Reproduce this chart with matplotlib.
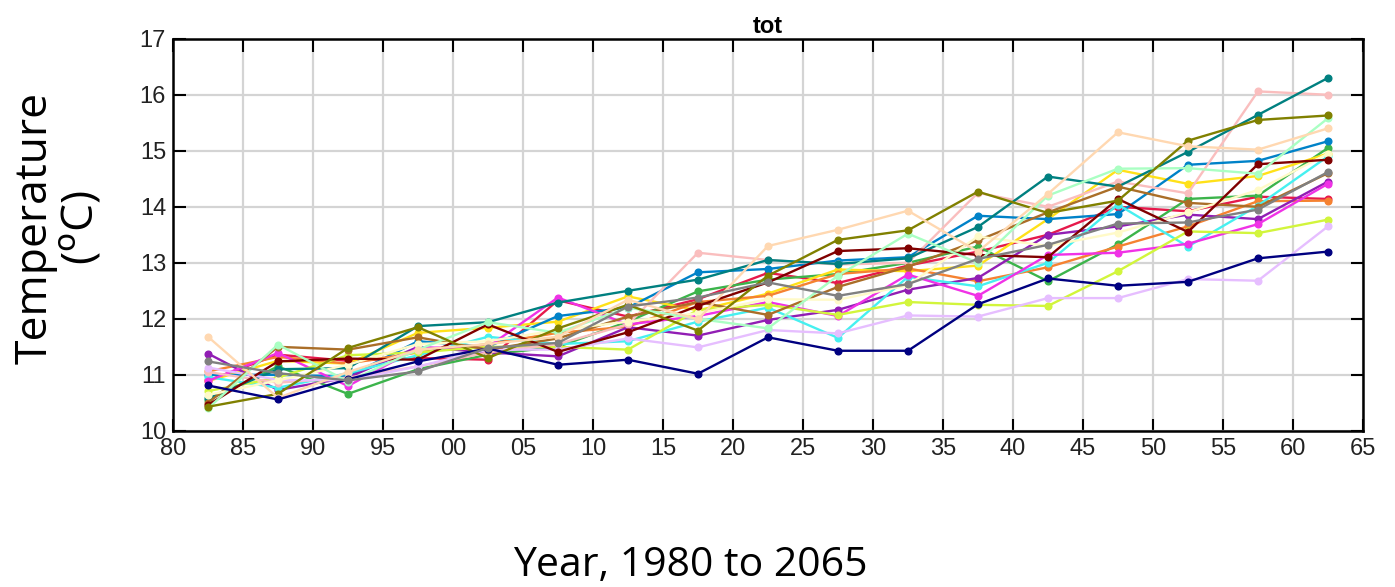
import matplotlib
matplotlib.use("Agg")
import matplotlib.pyplot as plt
import numpy as np

# period midpoints, 1982.5 .. 2062.5
years = np.arange(1982.5, 2065, 5)

red = [10.90, 11.36, 11.25, 11.30, 11.27, 12.33, 12.04, 12.35, 12.82, 12.64, 12.95, 13.20, 13.50, 14.00, 13.92, 14.18, 14.14]
green = [10.55, 11.15, 10.66, 11.10, 11.36, 11.50, 11.95, 12.49, 12.70, 12.80, 13.00, 13.29, 12.67, 13.33, 14.14, 14.20, 15.05]
yellow = [10.89, 11.25, 11.20, 11.75, 11.84, 11.95, 12.40, 12.15, 12.45, 12.88, 12.85, 12.95, 13.78, 14.66, 14.41, 14.55, 14.95]
blue = [11.00, 11.00, 10.97, 11.60, 11.50, 12.05, 12.20, 12.83, 12.89, 13.04, 13.10, 13.84, 13.78, 13.87, 14.75, 14.82, 15.17]
orange = [11.06, 11.32, 11.20, 11.40, 11.55, 11.75, 11.86, 12.30, 12.41, 12.80, 12.90, 12.67, 12.92, 13.29, 13.65, 14.10, 14.11]
purple = [11.38, 10.73, 10.95, 11.50, 11.40, 11.33, 11.85, 11.70, 11.98, 12.16, 12.52, 12.73, 13.50, 13.65, 13.86, 13.78, 14.45]
cyan = [10.96, 10.77, 11.03, 11.35, 11.68, 11.55, 11.60, 11.95, 12.20, 11.66, 12.75, 12.58, 13.00, 14.04, 13.29, 14.02, 14.90]
magenta = [10.89, 11.39, 10.80, 11.48, 11.50, 12.38, 11.90, 12.05, 12.30, 12.05, 12.79, 12.41, 13.14, 13.18, 13.34, 13.69, 14.41]
lime = [10.71, 10.95, 11.35, 11.40, 11.50, 11.50, 11.45, 12.16, 12.25, 12.07, 12.30, 12.25, 12.23, 12.85, 13.56, 13.53, 13.77]
pink = [11.05, 10.86, 10.95, 11.15, 11.40, 11.55, 11.90, 13.18, 13.05, 12.97, 13.00, 14.25, 14.00, 14.45, 14.24, 16.06, 16.00]
teal = [10.58, 11.10, 11.12, 11.87, 11.94, 12.29, 12.50, 12.70, 13.05, 12.98, 13.08, 13.64, 14.54, 14.36, 14.98, 15.64, 16.30]
lavender = [11.13, 10.91, 10.90, 11.15, 11.45, 11.45, 11.65, 11.49, 11.80, 11.74, 12.06, 12.04, 12.37, 12.37, 12.71, 12.68, 13.65]
brown = [10.50, 11.50, 11.45, 11.67, 11.45, 11.65, 12.04, 12.30, 12.07, 12.57, 12.93, 13.40, 13.90, 14.36, 14.07, 14.00, 14.60]
beige = [10.64, 10.90, 11.18, 11.55, 11.60, 11.80, 11.95, 12.10, 12.35, 12.34, 12.60, 13.47, 13.30, 13.54, 13.90, 14.30, 14.95]
maroon = [10.46, 11.24, 11.29, 11.27, 11.90, 11.41, 11.76, 12.23, 12.65, 13.21, 13.26, 13.14, 13.10, 14.14, 13.55, 14.76, 14.84]
mint = [10.40, 11.54, 10.88, 11.45, 11.94, 11.75, 12.20, 12.00, 11.83, 12.77, 13.52, 13.00, 14.20, 14.68, 14.69, 14.59, 15.58]
olive = [10.43, 10.66, 11.48, 11.85, 11.30, 11.83, 12.25, 11.79, 12.77, 13.41, 13.58, 14.27, 13.89, 14.11, 15.18, 15.55, 15.63]
apricot = [11.68, 10.59, 11.05, 11.45, 11.55, 11.68, 12.34, 11.99, 13.30, 13.59, 13.93, 13.20, 14.23, 15.33, 15.08, 15.02, 15.40]
navy = [10.81, 10.56, 10.92, 11.24, 11.47, 11.18, 11.27, 11.02, 11.67, 11.43, 11.43, 12.26, 12.72, 12.59, 12.66, 13.08, 13.20]
gray = [11.24, 11.03, 10.90, 11.06, 11.48, 11.57, 12.22, 12.38, 12.65, 12.41, 12.62, 13.07, 13.32, 13.70, 13.72, 13.95, 14.62]

series = [red, green, yellow, blue, orange, purple, cyan, magenta, lime, pink,
          teal, lavender, brown, beige, maroon, mint, olive, apricot, navy, gray]
colors = ['#e6194b', '#3cb44b', '#ffe119', '#0082c8', '#f58231', '#911eb4',
          '#46f0f0', '#f032e6', '#d2f53c', '#fabebe', '#008080', '#e6beff',
          '#aa6e28', '#fffac8', '#800000', '#aaffc3', '#808000', '#ffd8b1',
          '#000080', '#808080']

xticks = np.arange(1980, 2066, 5)
yticks = np.arange(10, 18, 1)

fig = plt.figure(figsize=(13.95, 5.87), dpi=100)
ax = fig.add_axes([0.124, 0.266, 0.853, 0.668])

for vals, c in zip(series, colors):
    ax.plot(years, vals, '-o', color=c, lw=1.7, ms=4.8, zorder=3)

ax.set_xlim(1980, 2065)
ax.set_ylim(10, 17)
ax.set_xticks(xticks)
ax.set_xticklabels(['%02d' % (y % 100) for y in xticks])
ax.set_yticks(yticks)
ax.grid(True, color='#d4d4d4', lw=1.6, zorder=0)
ax.tick_params(direction='in', length=9, width=1.5, top=True, right=True,
               labelsize=17, pad=5, labelcolor='#222222')
for lab in ax.get_xticklabels() + ax.get_yticklabels():
    lab.set_family('Liberation Sans')
for sp in ax.spines.values():
    sp.set_linewidth(1.8)

ax.set_title('tot', fontsize=17, fontweight='bold', family='Liberation Sans', pad=4)
fig.text(0.042, 0.612, 'Temperature\n(${}^{\\mathrm{o}}$C)', rotation=90,
         ha='center', va='center', fontsize=32, family='Open Sans',
         multialignment='center', linespacing=1.05)
fig.text(0.4946, 0.037, 'Year, 1980 to 2065', ha='center', va='center',
         fontsize=29.5, family='Open Sans')

fig.savefig('out.png', dpi=100)
